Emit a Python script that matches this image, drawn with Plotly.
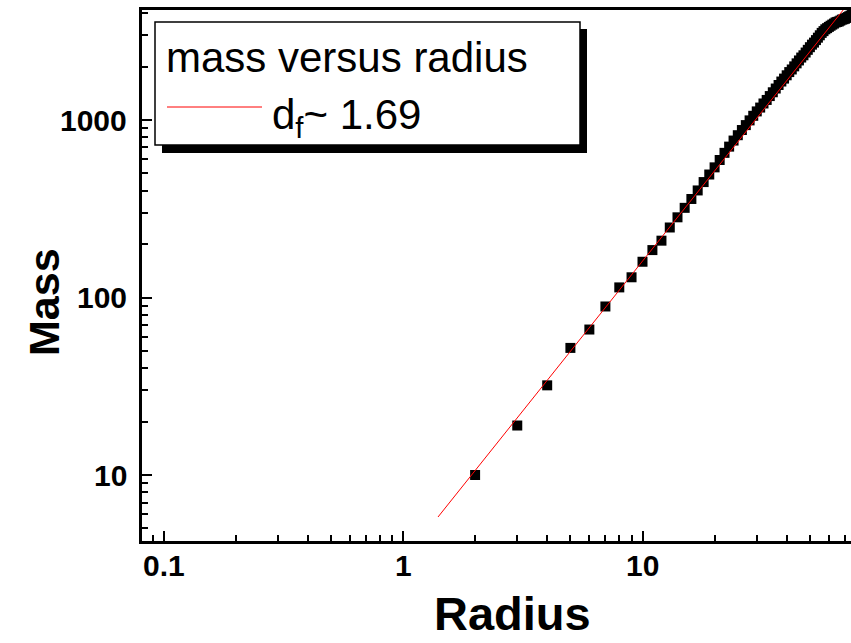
import math
import plotly.graph_objects as go

# Cluster mass M(r) counted inside radius r
radius = list(range(2, 76))
mass = [
    10, 19, 32, 52, 66, 89, 114, 130, 159, 185, 209, 248,            # r = 2..13
    283, 320, 359, 401, 447, 493, 541, 595, 653, 708,                 # r = 14..23
    766, 821, 878, 936, 995, 1056, 1118, 1175, 1239, 1297,            # r = 24..33
    1364, 1433, 1504, 1575, 1647, 1711, 1786, 1862, 1926, 2005,       # r = 34..43
    2085, 2165, 2248, 2315, 2399, 2485, 2571, 2658, 2729, 2819,       # r = 44..53
    2909, 3001, 3095, 3167, 3243, 3293, 3346, 3396, 3446, 3493,       # r = 54..63
    3544, 3569, 3589, 3631, 3677, 3694, 3717, 3759, 3799, 3839,       # r = 64..73
    3876, 3913,                                                       # r = 74..75
]

# Power-law fit M ~ r^df, drawn between its two end points
fit_radius = [1.4, 69.2]
fit_mass = [5.8, 4200]
fit_label = "d<sub>f</sub>~ 1.69"
series_label = "mass versus radius"

x_major = [0.1, 1, 10]
x_major_text = ["0.1", "1", "10"]
x_minor = [0.09] + [k * 0.1 for k in range(2, 10)] + list(range(2, 10)) + [k * 10 for k in range(2, 8)]
y_major = [10, 100, 1000]
y_major_text = ["10", "100", "1000"]
y_minor = [5, 6, 7, 8, 9] + [k * 10 for k in range(2, 10)] + [k * 100 for k in range(2, 10)] + [2000, 3000, 4000]

W, H = 851, 643
L, R, T, B = 142, 0, 10, 102
PW, PH = W - L - R, H - T - B


def px(x):
    return (x - L) / PW


def py(y):
    return (H - B - y) / PH


fig = go.Figure()
fig.add_trace(go.Scatter(
    x=radius, y=mass, mode="markers",
    marker=dict(symbol="square", size=10, color="black", line=dict(width=0)),
    showlegend=False,
))
fig.add_trace(go.Scatter(
    x=fit_radius, y=fit_mass, mode="lines",
    line=dict(color="red", width=1),
    showlegend=False,
))

minor_ticks = dict(ticks="inside", ticklen=6, tickwidth=2, tickcolor="black", showgrid=False)
axis_common = dict(
    type="log", showgrid=False, zeroline=False,
    showline=True, linecolor="black", linewidth=3,
    ticks="inside", ticklen=10, tickwidth=2, tickcolor="black",
    showticklabels=False,
)
fig.update_xaxes(range=[-1.0898, 1.8706], mirror=True, tickvals=x_major,
                 minor=dict(tickvals=x_minor, **minor_ticks), **axis_common)
fig.update_yaxes(range=[0.6282, 3.6197], mirror=False, tickvals=y_major,
                 minor=dict(tickvals=y_minor, **minor_ticks), **axis_common)

# Tick labels placed at the major tick values (log axes take log10 positions)
tick_font = dict(family="Liberation Sans", size=30, color="black", weight="bold")
for v, s in zip(x_major, x_major_text):
    fig.add_annotation(xref="x", yref="paper", x=math.log10(v), y=py(565),
                       xanchor="center", yanchor="middle", showarrow=False,
                       text=s, font=tick_font)
for v, s in zip(y_major, y_major_text):
    fig.add_annotation(xref="paper", yref="y", x=px(129), y=math.log10(v),
                       xanchor="right", yanchor="middle", showarrow=False,
                       text=s, font=tick_font)

# Legend panel with drop shadow
box = (155, 22, 580, 145)
shadow = 7
fig.add_shape(type="rect", xref="paper", yref="paper",
              x0=px(box[0] + shadow), x1=px(box[2] + shadow),
              y0=py(box[3] + shadow + 1), y1=py(box[1] + shadow),
              fillcolor="black", line=dict(width=0), layer="above")
fig.add_shape(type="rect", xref="paper", yref="paper",
              x0=px(box[0]), x1=px(box[2]), y0=py(box[3]), y1=py(box[1]),
              fillcolor="white", line=dict(color="black", width=1.5), layer="above")
fig.add_shape(type="line", xref="paper", yref="paper",
              x0=px(167), x1=px(262), y0=py(107), y1=py(107),
              line=dict(color="red", width=1), layer="above")

legend_font = dict(family="Liberation Sans", size=42, color="black")
fig.add_annotation(xref="paper", yref="paper", x=px(164), y=py(57),
                   xanchor="left", yanchor="middle", showarrow=False,
                   text=series_label, font=legend_font)
fig.add_annotation(xref="paper", yref="paper", x=px(270), y=py(117),
                   xanchor="left", yanchor="middle", showarrow=False,
                   text=fit_label, font=legend_font)

fig.add_annotation(xref="paper", yref="paper", x=px(512), y=py(614),
                   xanchor="center", yanchor="middle", showarrow=False, text="Radius",
                   font=dict(family="Liberation Sans", size=47, color="black", weight="bold"))
fig.add_annotation(xref="paper", yref="paper", x=px(44), y=py(302),
                   xanchor="center", yanchor="middle", showarrow=False, text="Mass", textangle=-90,
                   font=dict(family="Liberation Sans", size=43, color="black", weight="bold"))

fig.update_layout(
    width=W, height=H,
    margin=dict(l=L, r=R, t=T, b=B),
    paper_bgcolor="white", plot_bgcolor="white",
    showlegend=False,
)

fig.write_html("out.html")
